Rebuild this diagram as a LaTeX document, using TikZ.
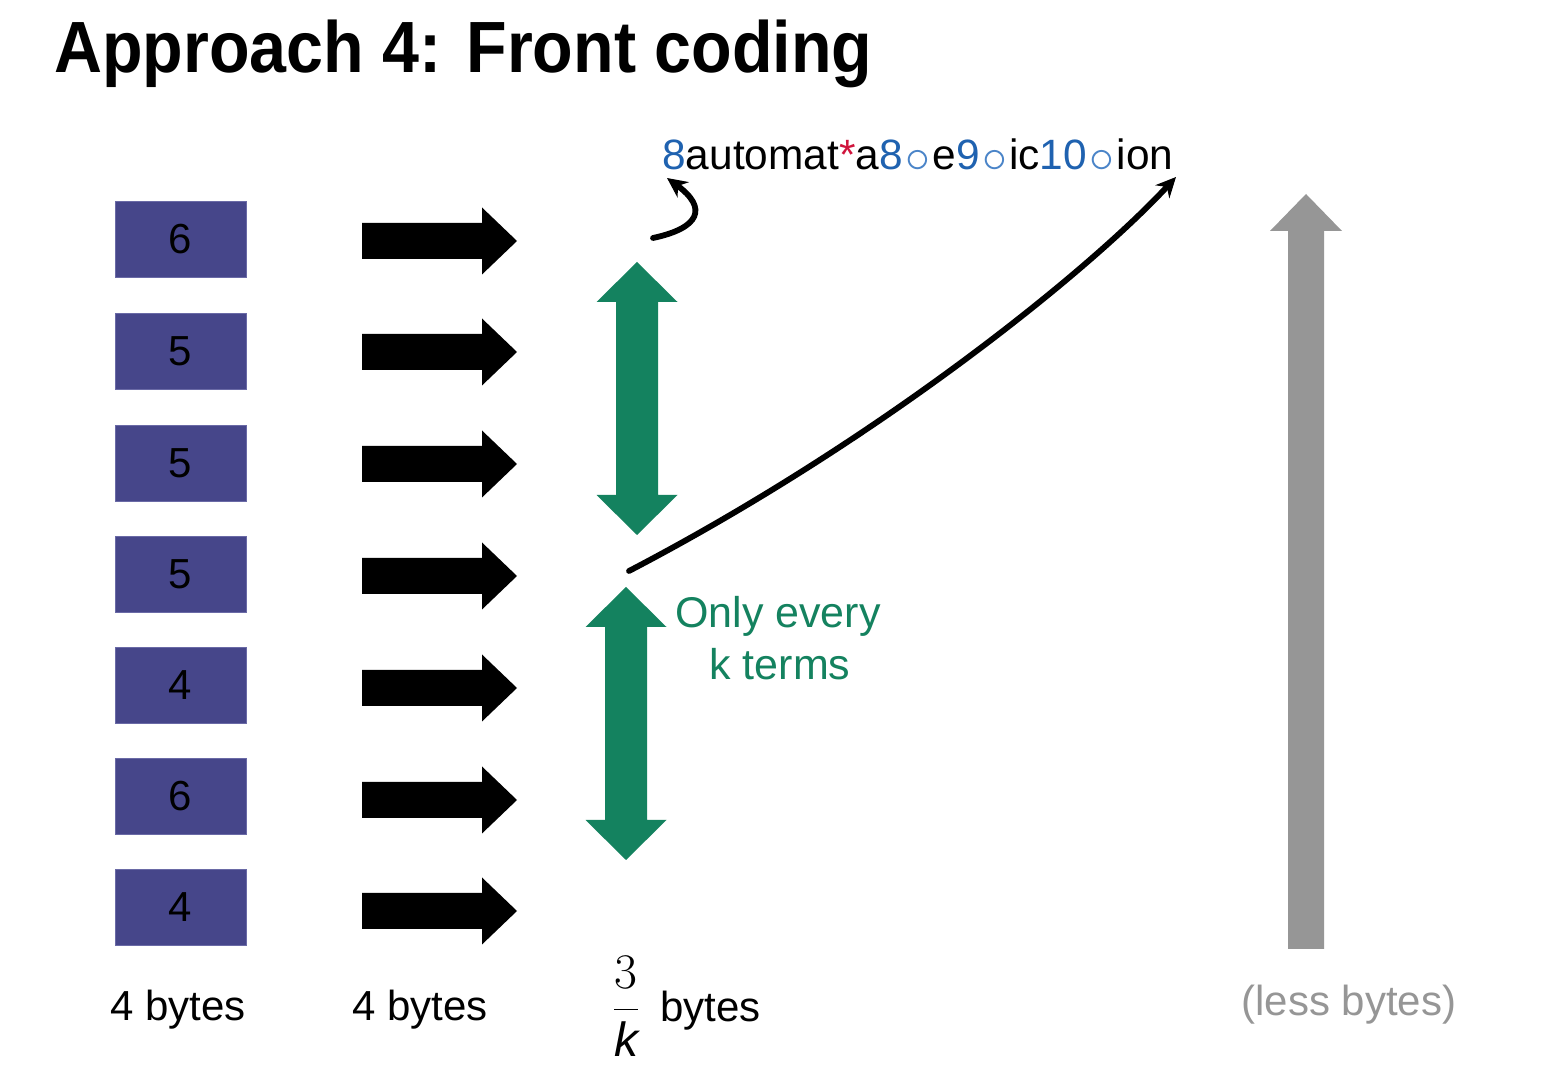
\documentclass[tikz,border=0pt]{standalone}
\usepackage{fontspec}
\setmainfont{Liberation Sans}
\usetikzlibrary{arrows.meta}
\definecolor{boxblue}{HTML}{46468A}
\definecolor{boxedge}{HTML}{6A6AA6}
\definecolor{cgreen}{HTML}{14825F}
\definecolor{cgray}{HTML}{969696}
\definecolor{cblue}{HTML}{1F62B0}
\definecolor{clblue}{HTML}{4A84C8}
\definecolor{cred}{HTML}{D0143C}
\newcommand\smallcirc{\kern1.2pt\textcolor{clblue}{\raisebox{-1.2pt}{\fontsize{26}{26}\selectfont$\circ$}}\kern1.2pt}
\begin{document}
\begin{tikzpicture}[x=0.5pt,y=-0.5pt,
  numbox/.style={fill=boxblue,draw=boxedge,line width=0.4pt,minimum width=65.5pt,minimum height=38pt,inner sep=0pt,font=\fontsize{21}{25}\selectfont},
  lbl/.style={anchor=base,inner sep=0pt,font=\fontsize{21}{25}\selectfont},
  blockarrow/.pic={\fill[black] (-77.5,-18) -- (42.5,-18) -- (42.5,-33.5) -- (77.5,0) -- (42.5,33.5) -- (42.5,18) -- (-77.5,18) -- cycle;},
  greenarrow/.pic={\fill[cgreen] (0,-136.5) -- (40.5,-96.5) -- (21,-96.5) -- (21,96.5) -- (40.5,96.5) -- (0,136.5) -- (-40.5,96.5) -- (-21,96.5) -- (-21,-96.5) -- (-40.5,-96.5) -- cycle;},
  curvy/.style={line width=2.9pt,line cap=round,-{Stealth[length=10pt,width=9.5pt]}}
]
\fill[white] (0,0) rectangle (1544,1090);
\useasboundingbox (0,0) rectangle (1544,1090);

% title
\node[anchor=base west,inner sep=0pt,font=\fontsize{36.3}{40}\selectfont\bfseries] (title) at (54,73) {\scalebox{0.915}[1]{Approach 4: Front coding}};

% boxes
\node[numbox] (b1) at (180.5,239) {6};
\node[numbox] (b2) at (180.5,351) {5};
\node[numbox] (b3) at (180.5,463) {5};
\node[numbox] (b4) at (180.5,574) {5};
\node[numbox] (b5) at (180.5,685) {4};
\node[numbox] (b6) at (180.5,796) {6};
\node[numbox] (b7) at (180.5,907) {4};

% black block arrows
\foreach \yy in {241,352,464,576,688,800,911}
  \pic at (439.5,\yy) {blockarrow};

% green double arrows
\pic at (637,398.5) {greenarrow};
\pic at (626,723.5) {greenarrow};

% gray arrow
\fill[cgray] (1306,194) -- (1342,231) -- (1324,231) -- (1324,949) -- (1288,949) -- (1288,231) -- (1270,231) -- cycle;

% code string
\node[anchor=base west,inner sep=0pt,font=\fontsize{21.2}{25}\selectfont] (code) at (662,170)
  {\textcolor{cblue}{8}automat\textcolor{cred}{*}a\textcolor{cblue}{8}\smallcirc e\textcolor{cblue}{9}\smallcirc ic\textcolor{cblue}{10}\smallcirc ion};

% connectors
\coordinate (s1) at (653,238);
\coordinate (t1) at (667,178);
\coordinate (s2) at (629,571);
\coordinate (t2) at (1176,177);
\draw[curvy] (s1) .. controls (700,228) and (708,208) .. (t1);
\draw[curvy] (s2) .. controls (880,440) and (1090,270) .. (t2);

% green label
\node[lbl,text=cgreen,font=\fontsize{21.5}{25}\selectfont] (only) at (778,628) {Only every};
\node[lbl,text=cgreen,font=\fontsize{21.5}{25}\selectfont] (kterms) at (780,680) {k terms};

% bottom labels
\node[lbl] (l1) at (178,1021) {4 bytes};
\node[lbl] (l2) at (420,1021) {4 bytes};
\node[anchor=base,inner sep=0pt,font=\fontsize{24}{28}\selectfont] (frac) at (626,1022) {$\displaystyle\frac{3}{\textit{k}}$};
\node[anchor=base west,inner sep=0pt,font=\fontsize{21}{25}\selectfont] (l3) at (660,1022) {bytes};
\node[lbl,text=cgray] (l4) at (1349,1015) {(less bytes)};
\end{tikzpicture}
\end{document}
